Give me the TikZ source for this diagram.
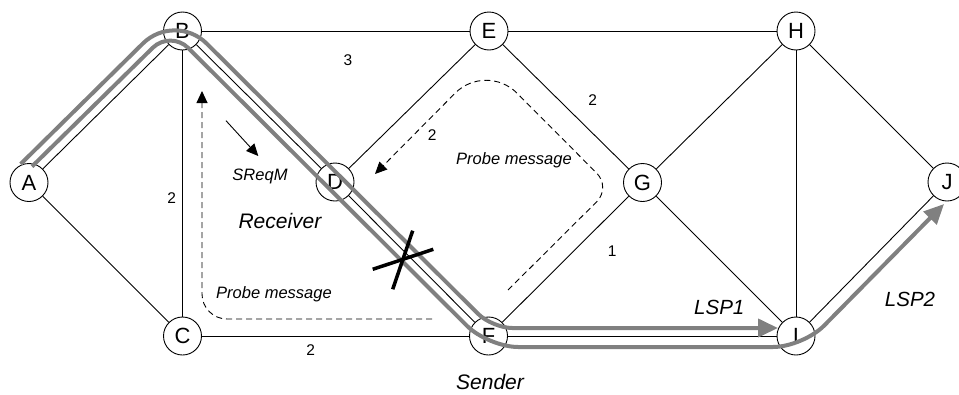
\documentclass[tikz,border=0pt]{standalone}
\usepackage{fontspec}
\setmainfont{Liberation Sans}
\usetikzlibrary{arrows.meta,calc}
\definecolor{lspgray}{RGB}{128,128,128}
\begin{document}
\begin{tikzpicture}[x=1pt,y=-1pt,
  vertex/.style={circle,draw,fill=white,minimum size=38pt,inner sep=0pt,line width=0.9pt,font=\fontsize{22}{22}\selectfont},
  edge/.style={line width=0.9pt},
  lbl/.style={font=\fontsize{15.5}{16}\selectfont,anchor=base,inner sep=0pt},
  ilbl/.style={font=\fontsize{16.5}{16.5}\selectfont\itshape,anchor=base,inner sep=0pt},
  blbl/.style={font=\fontsize{21}{21}\selectfont\itshape,anchor=base,inner sep=0pt},
  dsh/.style={line width=0.9pt,dash pattern=on 6pt off 4pt},
  msgtip/.style={-{Triangle[length=12pt,width=11pt]}},
  lsp/.style={draw=lspgray,line width=4pt,-{Triangle[length=20pt,width=18pt]}},
  cross/.style={line width=3.5pt}
]
\useasboundingbox (0,0) rectangle (959,394);

% nodes
\node[vertex] (A) at (29,182.5) {A};
\node[vertex] (B) at (182.5,31) {B};
\node[vertex] (C) at (182.5,336) {C};
\node[vertex] (D) at (335,182) {D};
\node[vertex] (E) at (489,31) {E};
\node[vertex] (F) at (488.5,336) {F};
\node[vertex] (G) at (642.5,182.5) {G};
\node[vertex] (H) at (796,31) {H};
\node[vertex] (I) at (796,336) {I};
\node[vertex] (J) at (947,182) {J};

% edges
\foreach \u/\v in {A/B,A/C,B/C,B/E,B/D,C/F,D/E,D/F,E/G,E/H,F/G,F/I,G/H,G/I,H/I,H/J,I/J}
  \draw[edge] (\u) -- (\v);

% edge weights
\node[lbl] (w1) at (348,65) {3};
\node[lbl] (w2) at (592.7,105) {2};
\node[lbl] (w3) at (432.3,140.7) {2};
\node[lbl] (w4) at (171.7,203.3) {2};
\node[lbl] (w5) at (310.7,355.7) {2};
\node[lbl] (w6) at (612.3,256) {1};

% text labels
\node[ilbl] (pm1) at (514,164) {Probe message};
\node[ilbl] (pm2) at (274,298.3) {Probe message};
\node[ilbl] (sreq) at (260,180) {SReqM};
\node[blbl] (recv) at (280,228.3) {Receiver};
\node[blbl] (send) at (490,389.5) {Sender};
\node[font=\fontsize{20.5}{20.5}\selectfont\itshape,anchor=base,inner sep=0pt] (l1) at (719.3,314) {LSP1};
\node[font=\fontsize{20.5}{20.5}\selectfont\itshape,anchor=base,inner sep=0pt] (l2) at (910,306.7) {LSP2};

% SReqM arrow
\coordinate (s0) at (226,120.7);
\coordinate (s1) at (258.3,156);
\draw[edge,msgtip] (s0) -- (s1);

% lower dashed probe path
\coordinate (L0) at (432,319);
\coordinate (L1) at (202,319);
\coordinate (L2) at (202,91);
\draw[dsh,msgtip,rounded corners=25pt] (L0) -- (L1) -- (L2);

% upper dashed probe path
\coordinate (P0) at (508,290);
\coordinate (Q1) at (611,187.5);
\coordinate (Q2) at (486,62);
\coordinate (P3) at (375,174);
\draw[dsh,msgtip] (P0) -- ($(Q1)!20pt!(P0)$)
  .. controls ($(Q1)!9pt!(P0)$) and ($(Q1)!9pt!(Q2)$) .. ($(Q1)!20pt!(Q2)$)
  -- ($(Q2)!44pt!(Q1)$)
  .. controls ($(Q2)!19.7pt!(Q1)$) and ($(Q2)!19.7pt!(P3)$) .. ($(Q2)!44pt!(P3)$)
  -- (P3);

% LSP1 (outer)
\coordinate (S1) at (20.7,164);
\coordinate (V1) at (174.9,11.9);
\coordinate (V2) at (492.3,328);
\coordinate (T1) at (778,328);
\draw[lsp] (S1) -- ($(V1)!45pt!(S1)$)
  .. controls ($(V1)!20pt!(S1)$) and ($(V1)!20pt!(V2)$) .. ($(V1)!45pt!(V2)$)
  -- ($(V2)!20pt!(V1)$)
  .. controls ($(V2)!9pt!(V1)$) and ($(V2)!9pt!(T1)$) .. ($(V2)!20pt!(T1)$)
  -- (T1);

% LSP2 (inner)
\coordinate (S2) at (32,166.5);
\coordinate (W1) at (170.5,30.3);
\coordinate (W2) at (488.2,347);
\coordinate (W3) at (803,347);
\coordinate (T2) at (944,204);
\draw[lsp] (S2) -- ($(W1)!25pt!(S2)$)
  .. controls ($(W1)!11.2pt!(S2)$) and ($(W1)!11.2pt!(W2)$) .. ($(W1)!25pt!(W2)$)
  -- ($(W2)!30pt!(W1)$)
  .. controls ($(W2)!13.4pt!(W1)$) and ($(W2)!13.4pt!(W3)$) .. ($(W2)!30pt!(W3)$)
  -- ($(W3)!30pt!(W2)$)
  .. controls ($(W3)!13.4pt!(W2)$) and ($(W3)!13.4pt!(T2)$) .. ($(W3)!30pt!(T2)$)
  -- (T2);

% broken link mark
\coordinate (x1) at (372.7,269.3);
\coordinate (x2) at (433.3,249.3);
\coordinate (x3) at (412.7,230.7);
\coordinate (x4) at (392.7,289.3);
\draw[cross] (x1) -- (x2);
\draw[cross] (x3) -- (x4);
\end{tikzpicture}
\end{document}
